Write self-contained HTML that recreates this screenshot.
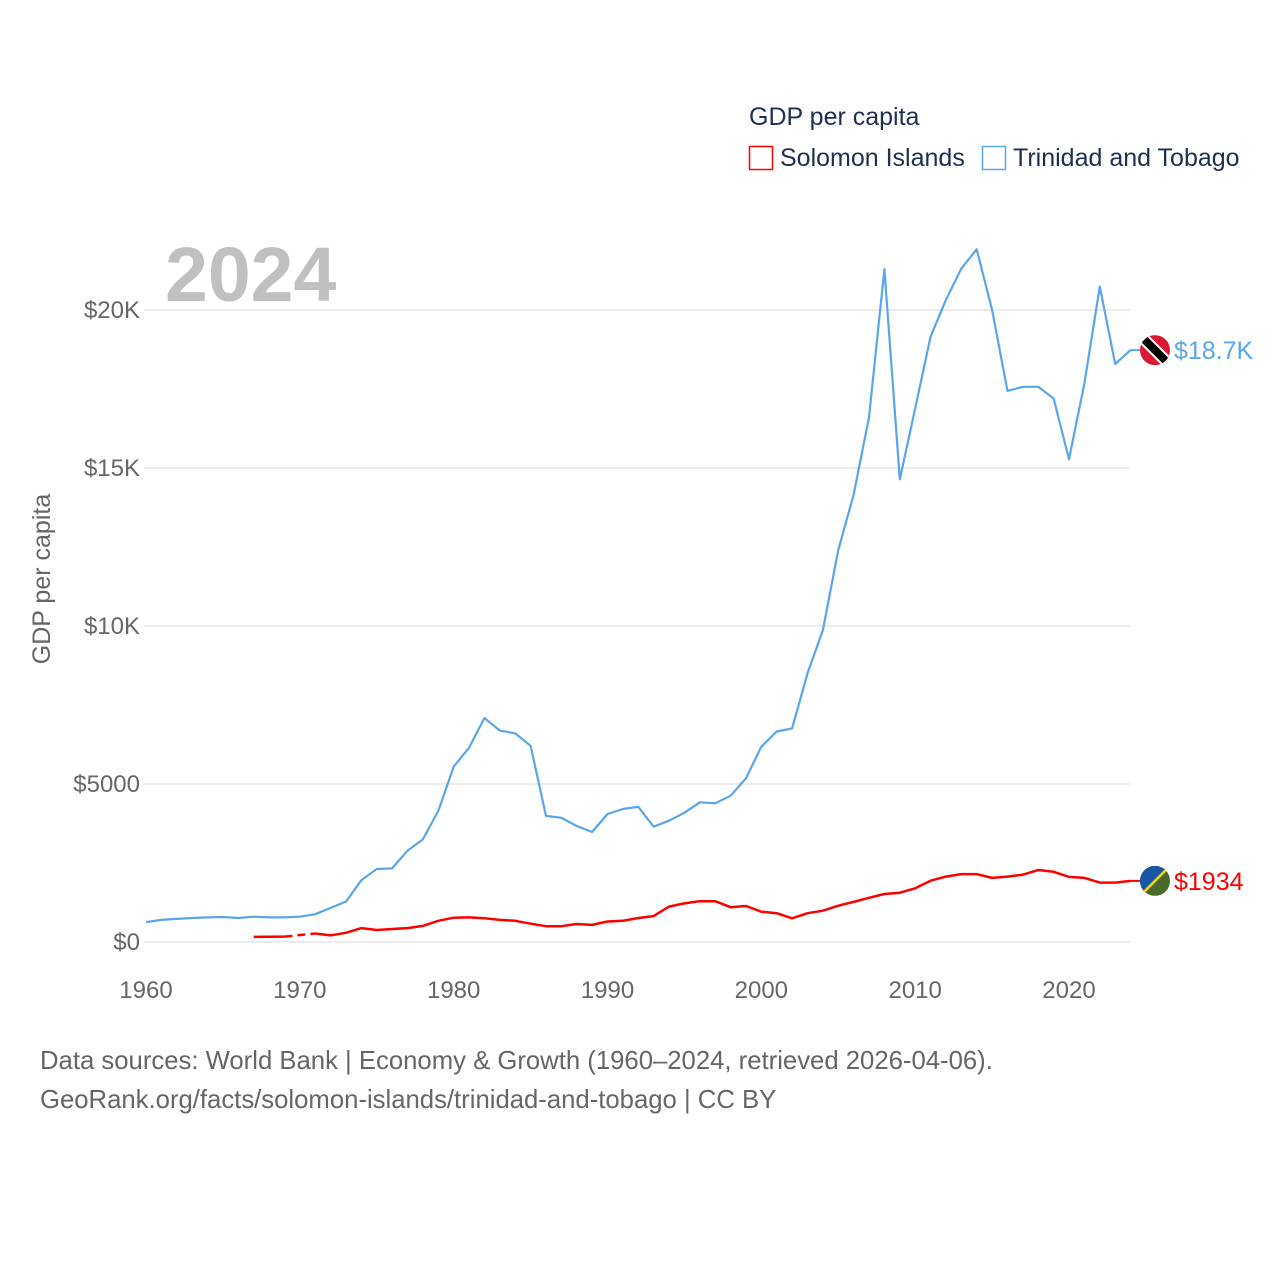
<!DOCTYPE html>
<html><head><meta charset="utf-8"><style>
body{margin:0;background:#fff;width:1280px;height:1280px;overflow:hidden;font-family:"Liberation Sans",sans-serif}
</style></head><body>
<svg id="chart" width="1280" height="1280" xmlns="http://www.w3.org/2000/svg" font-family="Liberation Sans, sans-serif">
<text x="749" y="125" font-size="25" fill="#1d2f52">GDP per capita</text>
<g><rect x="749.5" y="146.5" width="23" height="23" fill="none" stroke="#ff0000" stroke-width="1.5"/><text x="780" y="166" font-size="25" fill="#1d2f52">Solomon Islands</text></g>
<g><rect x="982.5" y="146.5" width="23" height="23" fill="none" stroke="#5aa6ea" stroke-width="1.5"/><text x="1013" y="166" font-size="25" fill="#1d2f52">Trinidad and Tobago</text></g>
<text x="165" y="301" font-size="77" font-weight="bold" fill="#c0c0c0">2024</text>
<text transform="translate(50,579) rotate(-90)" text-anchor="middle" font-size="25" fill="#666">GDP per capita</text>
<g id="grid"></g><g id="xt"></g><g id="series"></g>
<text x="40" y="1069" font-size="25.7" fill="#666">Data sources: World Bank | Economy &amp; Growth (1960–2024, retrieved 2026-04-06).</text>
<text x="40" y="1108" font-size="25.7" fill="#666">GeoRank.org/facts/solomon-islands/trinidad-and-tobago | CC BY</text>
</svg>
<script>
const yTicks=[0,5000,10000,15000,20000];
const yTickLabels=["$0","$5000","$10K","$15K","$20K"];
const xTicks=[1960,1970,1980,1990,2000,2010,2020];
const ttYears=[];for(let y=1960;y<=2024;y++)ttYears.push(y);
const ttValues=[630,700,730,760,780,790,760,800,780,780,800,880,1080,1280,1960,2310,2330,2890,3250,4150,5550,6150,7090,6690,6600,6210,3990,3930,3670,3480,4050,4210,4280,3650,3840,4090,4420,4390,4630,5180,6180,6660,6760,8500,9870,12410,14150,16600,21290,14640,16890,19150,20320,21310,21920,20000,17440,17570,17570,17200,15280,17680,20740,18290,18730];
const siYears=[1967,1968,1969,1970,1971,1972,1973,1974,1975,1976,1977,1978,1979,1980,1981,1982,1983,1984,1985,1986,1987,1988,1989,1990,1991,1992,1993,1994,1995,1996,1997,1998,1999,2000,2001,2002,2003,2004,2005,2006,2007,2008,2009,2010,2011,2012,2013,2014,2015,2016,2017,2018,2019,2020,2021,2022,2023,2024];
const siValues=[160,165,170,null,270,210,290,440,380,410,440,510,670,770,780,750,700,670,580,500,500,570,540,650,670,760,820,1120,1220,1290,1290,1100,1140,960,910,750,910,990,1150,1270,1400,1520,1560,1700,1940,2070,2150,2150,2030,2070,2130,2280,2220,2060,2030,1880,1880,1934];
const X=y=>146+(y-1960)*923/60;
const Y=v=>942-v*0.0316;
const NS='http://www.w3.org/2000/svg';
function mk(t,a,p){const e=document.createElementNS(NS,t);for(const k in a)e.setAttribute(k,a[k]);p.appendChild(e);return e;}
const grid=document.getElementById('grid');
yTicks.forEach((v,i)=>{
 const l=mk('line',{x1:144,x2:1130,y1:Y(v),y2:Y(v),stroke:'#e6e6e6','stroke-width':1.5},grid);
 
 
 const t=mk('text',{x:140,y:Y(v)+8,'text-anchor':'end','font-size':24,fill:'#666'},grid);
 t.textContent=yTickLabels[i];
 
 
});
const xt=document.getElementById('xt');
xTicks.forEach(y=>{
 const t=mk('text',{x:X(y),y:998,'text-anchor':'middle','font-size':24,fill:'#666'},xt);
 t.textContent=y;
 
 
});
const S=document.getElementById('series');
function path(years,vals){let d='',pen=false;years.forEach((y,i)=>{const v=vals[i];if(v==null){pen=false;return;}d+=(pen?'L':'M')+X(y).toFixed(1)+','+Y(v).toFixed(1);pen=true;});return d;}
const tt=mk('path',{d:path(ttYears,ttValues),fill:'none',stroke:'#5aa6ea','stroke-width':2.2,'stroke-linejoin':'round'},S);


const si=mk('path',{d:path(siYears,siValues),fill:'none',stroke:'#ff0000','stroke-width':2.5,'stroke-linejoin':'round'},S);


const gi=siValues.indexOf(null);
const gap=mk('line',{x1:X(siYears[gi-1]),y1:Y(siValues[gi-1]),x2:X(siYears[gi+1]),y2:Y(siValues[gi+1]),stroke:'#ff0000','stroke-width':2.5,'stroke-dasharray':'8,5'},S);


const tl=ttValues[ttValues.length-1], sl=siValues[siValues.length-1];
const ty=Y(tl), sy=Y(sl);
mk('line',{x1:X(2024),x2:1142,y1:ty,y2:ty,stroke:'#5aa6ea','stroke-width':2},S);
mk('line',{x1:X(2024),x2:1142,y1:sy,y2:sy,stroke:'#ff0000','stroke-width':2},S);
const f1=mk('g',{},S);


const cp1=mk('clipPath',{id:'c1'},f1);mk('circle',{cx:1155,cy:ty,r:15},cp1);
const g1=mk('g',{'clip-path':'url(#c1)'},f1);
mk('rect',{x:1140,y:ty-15,width:30,height:30,fill:'#da1a35'},g1);
mk('line',{x1:1138,y1:ty-17,x2:1172,y2:ty+17,stroke:'#fff','stroke-width':12},g1);
mk('line',{x1:1138,y1:ty-17,x2:1172,y2:ty+17,stroke:'#000','stroke-width':8},g1);
const f2=mk('g',{},S);


const cp2=mk('clipPath',{id:'c2'},f2);mk('circle',{cx:1155,cy:sy,r:15},cp2);
const g2=mk('g',{'clip-path':'url(#c2)'},f2);
mk('rect',{x:1140,y:sy-15,width:30,height:30,fill:'#4a6a2c'},g2);
mk('polygon',{points:`1140,${sy-15} 1170,${sy-15} 1140,${sy+15}`,fill:'#1856a8'},g2);
mk('line',{x1:1138,y1:sy+17,x2:1172,y2:sy-17,stroke:'#f5d617','stroke-width':2.5},g2);
const l1=mk('text',{x:1174,y:ty+9,'font-size':25,fill:'#5aa6ea'},S);
l1.textContent='$18.7K';


const l2=mk('text',{x:1174,y:sy+9,'font-size':25,fill:'#ff0000'},S);
l2.textContent='$'+sl;


</script>
</body></html>
